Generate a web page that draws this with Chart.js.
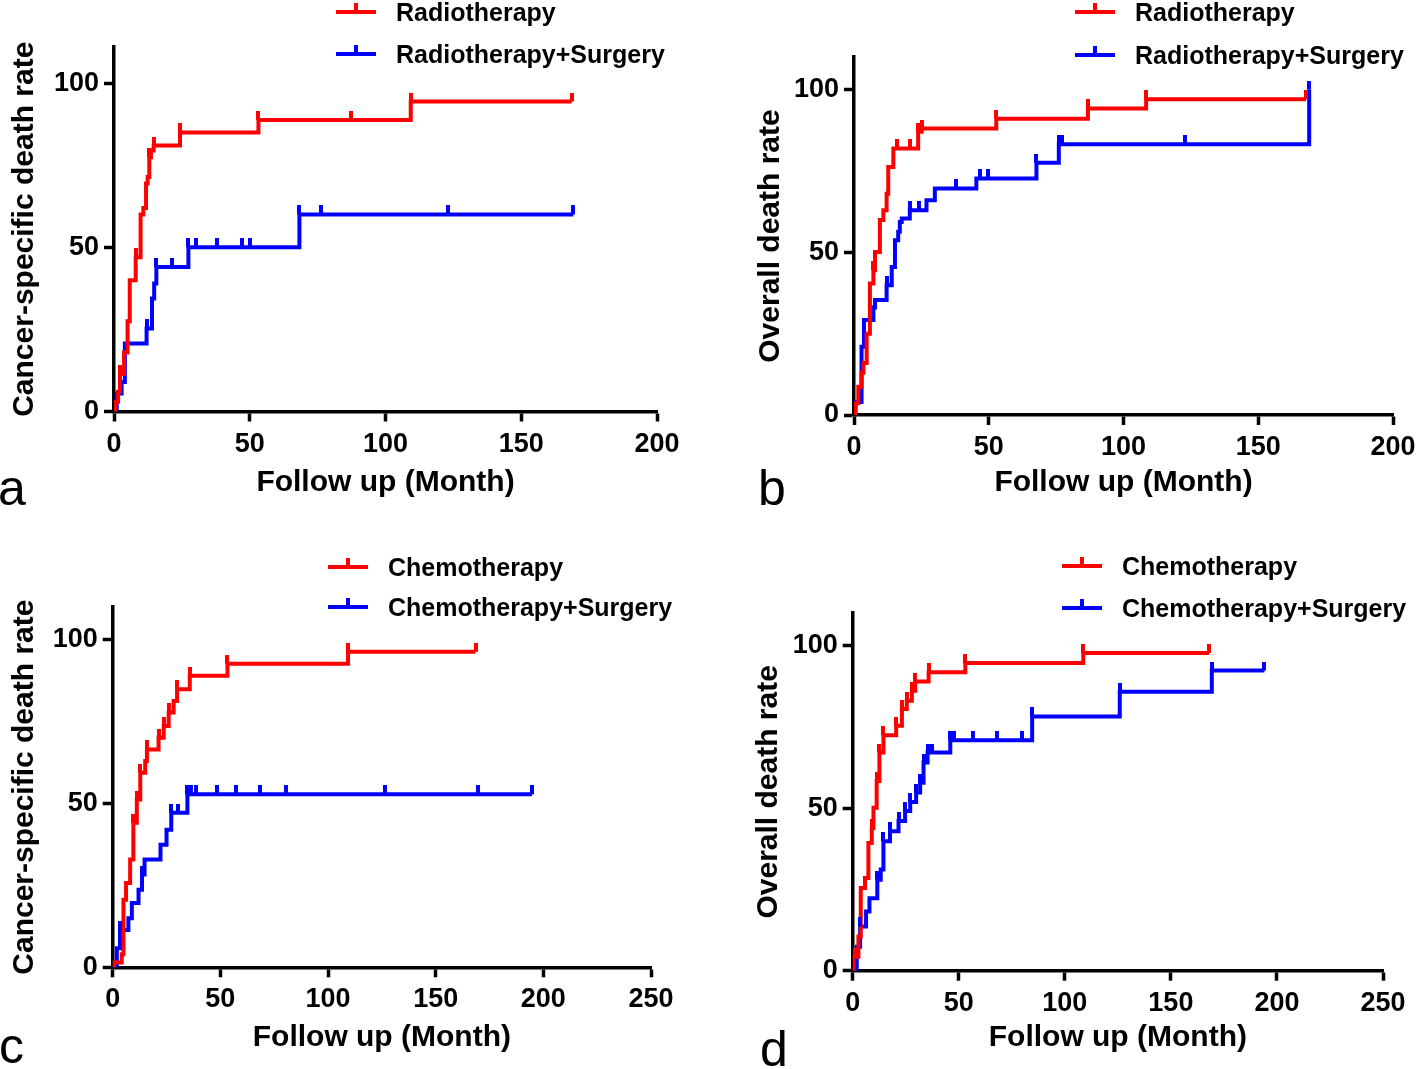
<!DOCTYPE html>
<html>
<head>
<meta charset="utf-8">
<script src="https://cdn.jsdelivr.net/npm/chart.js@4.4.0/dist/chart.umd.min.js"></script>
<style>
  body { margin: 0; background: #fff; width: 1416px; height: 1069px; position: relative; overflow: hidden;
         font-family: "Liberation Sans", Arial, Helvetica, sans-serif; }
  canvas { position: absolute; }
  .leg { position: absolute; font-weight: bold; font-size: 25px; white-space: nowrap; line-height: 30px; height: 30px; color: #000; }
  .leg .mark { position: absolute; left: 0; top: 13px; width: 40px; height: 4px; }
  .leg .mark i { position: absolute; left: 18px; top: -7px; width: 4px; height: 7px; background: inherit; }
  .leg span { position: absolute; left: 60px; top: 0; }
  .letter { position: absolute; font-size: 50px; line-height: 50px; color: #000; }
</style>
</head>
<body>
<script>
// 그룹 이름 (범례)
const radNames = ['Radiotherapy', 'Radiotherapy+Surgery'];
const chemoNames = ['Chemotherapy', 'Chemotherapy+Surgery'];

// a : 방사선치료, 암 특이 사망률 (개월, %)
const aRadTime = [0, 0.5, 1.5, 2.2, 3.7, 5.0, 5.8, 8.0, 9.8, 10.8, 11.8, 12.4, 13.0, 13.6, 14.6, 24.3, 53.2, 109.3, 168.6];
const aRadRate = [0, 3, 6, 11.5, 18, 27.5, 40, 47, 60, 62, 69.4, 71.4, 77.4, 79.5, 81, 85, 88.8, 94.4, 94.4];
const aRadCensor = [2.2, 8.0, 13.0, 14.6, 24.3, 53.2, 87.2, 109.3, 168.6];
const aSurTime = [0, 1.0, 2.8, 4.0, 12.0, 14.0, 14.8, 15.6, 27.4, 68.3, 169.2];
const aSurRate = [0, 5.5, 9, 20.7, 25.3, 34.4, 39, 44, 50, 60, 60];
const aSurCensor = [12.0, 15.6, 21.3, 27.4, 30.2, 38.1, 47.0, 50.1, 68.3, 76.2, 123.2, 169.2];

// b : 방사선치료, 전체 사망률
const bRadTime = [0, 0.4, 1.6, 2.8, 3.5, 4.7, 5.9, 7.2, 7.8, 9.6, 10.9, 12.1, 12.7, 14.6, 23.8, 25.1, 52.8, 86.8, 108.4, 167.7];
const bRadRate = [0, 3.6, 8.7, 13, 16, 25, 40.4, 44.5, 50.1, 59.9, 62.9, 68, 76.2, 81.9, 87, 88, 91, 94.2, 97, 97];
const bRadCensor = [7.2, 15.8, 20.7, 23.8, 25.1, 52.8, 86.8, 108.4, 167.7];
const bSurTime = [0, 0.6, 2.8, 3.7, 7.2, 7.8, 12.1, 14.0, 15.2, 16.4, 17.0, 17.7, 20.7, 26.9, 30.0, 45.4, 67.7, 76.0, 168.9];
const bSurRate = [0, 4, 21, 29.2, 33, 35.3, 39.9, 45.5, 53.7, 56.3, 59.3, 60.4, 62.9, 66, 69.6, 72.7, 77.5, 83.2, 100];
const bSurCensor = [12.1, 20.7, 24.1, 38.0, 46.7, 49.7, 67.7, 76.0, 77.2, 122.8, 168.9];

// c : 항암치료, 암 특이 사망률
const cRadTime = [0, 0.6, 4.2, 5.0, 6.2, 8.1, 9.6, 11.2, 12.8, 15.1, 15.9, 21.3, 23.7, 26.0, 28.3, 29.9, 35.8, 53.3, 109.3, 168.5];
const cRadRate = [0, 1.5, 4, 20.6, 25.7, 32.9, 44.1, 51.2, 59.4, 63, 66.5, 70.1, 73.7, 77.8, 81.3, 84.9, 89, 92.7, 96.3, 96.3];
const cRadCensor = [9.6, 11.2, 12.8, 15.9, 21.3, 23.7, 26.0, 29.9, 35.8, 53.3, 109.3, 168.5];
const cSurTime = [0, 1.9, 3.4, 7.3, 8.9, 12.0, 13.6, 14.8, 22.2, 25.0, 27.2, 34.7, 194.7];
const cSurRate = [0, 5.8, 11.4, 15, 19.6, 23.7, 28.3, 32.9, 37.4, 42, 47.2, 52.8, 52.8];
const cSurCensor = [3.4, 13.6, 27.2, 30.3, 34.7, 36.3, 38.6, 48.4, 57.3, 68.5, 80.6, 126.4, 169.6, 194.7];

// d : 항암치료, 전체 사망률
const dRadTime = [0, 0.3, 2.7, 3.8, 5.8, 7.4, 9.0, 9.8, 11.3, 12.6, 14.5, 20.5, 23.2, 25.5, 27.9, 29.5, 35.8, 53.1, 108.7, 168.1];
const dRadRate = [0, 4.3, 10.5, 25.4, 28.5, 39.3, 43.9, 50.1, 58.3, 67.1, 72.4, 75.3, 80.5, 83, 86.1, 88.9, 91.8, 94.6, 97.7, 97.7];
const dRadCensor = [1.1, 9.0, 11.3, 12.6, 14.5, 20.5, 23.2, 25.5, 27.9, 29.5, 35.8, 53.1, 108.7, 168.1];
const dSurTime = [0, 1.9, 3.5, 6.3, 7.9, 11.6, 13.2, 14.5, 17.6, 21.6, 24.7, 27.1, 29.9, 31.8, 33.4, 35.3, 46.0, 84.6, 125.9, 169.3, 194.1];
const dSurRate = [0, 7.4, 13.6, 18.2, 22.3, 28, 31.1, 39.8, 42.9, 46, 49.1, 51.9, 54.8, 57.8, 64, 67.1, 70.9, 78.2, 85.8, 92.3, 92.3];
const dSurCensor = [3.5, 11.6, 14.5, 17.6, 21.6, 24.7, 27.1, 29.9, 31.8, 33.4, 35.3, 37.3, 46.0, 47.6, 56.7, 67.8, 79.9, 84.6, 125.9, 169.3, 194.1];

const xTitleText = 'Follow up (Month)';
const red = '#ff0000';
const blue = '#0000ff';
const fontFamily = '"Liberation Sans", Arial, Helvetica, sans-serif';

// 패널 배치 (캔버스 위치, 차트 영역)
const panels = [
  { letter: 'a', x: 0, y: 0, w: 708, h: 534, left: 114, right: 657, top: 47, bottom: 411.5, xMax: 200, yMax: 111,
    yTitle: 'Cancer-specific death rate', yTitlePad: 6.5, xTitlePad: 33, names: radNames,
    series: [[aRadTime, aRadRate, aRadCensor], [aSurTime, aSurRate, aSurCensor]],
    legX: 336, legY: [12, 54], letX: -2, letY: 463 },
  { letter: 'b', x: 708, y: 0, w: 708, h: 534, left: 146, right: 685, top: 57, bottom: 415, xMax: 200, yMax: 110,
    yTitle: 'Overall death rate', yTitlePad: 44.6, xTitlePad: 33, names: radNames,
    series: [[bRadTime, bRadRate, bRadCensor], [bSurTime, bSurRate, bSurCensor]],
    legX: 1075, legY: [12, 55], letX: 758, letY: 463 },
  { letter: 'c', x: 0, y: 534, w: 708, h: 535, left: 112.7, right: 651, top: 73, bottom: 433.3, xMax: 250, yMax: 110,
    yTitle: 'Cancer-specific death rate', yTitlePad: 6.5, xTitlePad: 13, names: chemoNames,
    series: [[cRadTime, cRadRate, cRadCensor], [cSurTime, cSurRate, cSurCensor]],
    legX: 328, legY: [567, 607], letX: -1, letY: 1021 },
  { letter: 'd', x: 708, y: 534, w: 708, h: 535, left: 144.7, right: 675, top: 79, bottom: 436.7, xMax: 250, yMax: 110,
    yTitle: 'Overall death rate', yTitlePad: 42.6, xTitlePad: 13, names: chemoNames,
    series: [[dRadTime, dRadRate, dRadCensor], [dSurTime, dSurRate, dSurCensor]],
    legX: 1062, legY: [566, 608], letX: 760, letY: 1024 }
];

// 중도절단 표시 (선 위로 올라간 짧은 세로 눈금)
function makeTickMark(color) {
  const c = document.createElement('canvas');
  c.width = 4; c.height = 18;
  const g = c.getContext('2d');
  g.fillStyle = color;
  g.fillRect(0, 0, 4, 9);
  return c;
}

// 계단 곡선에서 t 시점의 값
function rateAt(times, rates, t) {
  let v = 0;
  for (let i = 0; i < times.length; i++) {
    if (times[i] <= t) v = rates[i];
  }
  return v;
}

const tickFont = { family: fontFamily, size: 27, weight: 'bold' };
const titleFont = { family: fontFamily, size: 30, weight: 'bold' };

function drawPanel(p) {
  const cv = document.createElement('canvas');
  cv.width = p.w; cv.height = p.h;
  cv.style.left = p.x + 'px'; cv.style.top = p.y + 'px';
  cv.style.width = p.w + 'px'; cv.style.height = p.h + 'px';
  document.body.appendChild(cv);

  const colors = [red, blue];
  const datasets = [];
  p.series.forEach((s, i) => {
    const [times, rates, censor] = s;
    datasets.push({
      label: p.names[i],
      data: times.map((t, k) => ({ x: t, y: rates[k] })),
      borderColor: colors[i],
      borderWidth: 4,
      stepped: true,
      pointRadius: 0,
      fill: false,
      borderJoinStyle: 'miter',
      order: 2 + i
    });
    datasets.push({
      label: p.names[i] + ' censored',
      data: censor.map(t => ({ x: t, y: rateAt(times, rates, t) })),
      showLine: false,
      pointStyle: makeTickMark(colors[i]),
      pointRadius: 5,
      order: i
    });
  });

  const axisGrid = { drawOnChartArea: false, drawTicks: true, tickLength: 10, tickWidth: 3.5, tickColor: '#000' };
  const axisBorder = { display: true, color: '#000', width: 3.5 };

  new Chart(cv, {
    type: 'line',
    data: { datasets: datasets },
    options: {
      responsive: false,
      animation: false,
      events: [],
      layout: { padding: { top: p.top, right: p.w - p.right, left: 0, bottom: 0 } },
      plugins: { legend: { display: false }, tooltip: { enabled: false } },
      scales: {
        x: {
          type: 'linear', min: 0, max: p.xMax,
          ticks: { stepSize: 50, font: tickFont, color: '#000', padding: 6.5, maxRotation: 0 },
          grid: axisGrid, border: axisBorder,
          title: { display: true, text: xTitleText, font: titleFont, color: '#000', padding: { top: 0, bottom: p.xTitlePad } },
          afterFit: s => { s.height = p.h - p.bottom; s.paddingLeft = 0; s.paddingRight = 0; }
        },
        y: {
          type: 'linear', min: 0, max: p.yMax,
          ticks: { stepSize: 50, includeBounds: false, font: tickFont, color: '#000', padding: 5 },
          grid: axisGrid, border: axisBorder,
          title: { display: true, text: p.yTitle, font: titleFont, color: '#000', padding: { top: p.yTitlePad, bottom: 0 } },
          afterFit: s => { s.width = p.left; s.paddingTop = 0; s.paddingBottom = 0; }
        }
      }
    }
  });

  // 범례
  p.names.forEach((name, i) => {
    const d = document.createElement('div');
    d.className = 'leg';
    d.style.left = p.legX + 'px';
    d.style.top = (p.legY[i] - 15) + 'px';
    d.innerHTML = '<div class="mark" style="background:' + colors[i] + '"><i></i></div><span></span>';
    d.querySelector('span').textContent = name;
    document.body.appendChild(d);
  });

  // 패널 글자
  const l = document.createElement('div');
  l.className = 'letter';
  l.style.left = p.letX + 'px';
  l.style.top = p.letY + 'px';
  l.textContent = p.letter;
  document.body.appendChild(l);
}

panels.forEach(drawPanel);
</script>
</body>
</html>
